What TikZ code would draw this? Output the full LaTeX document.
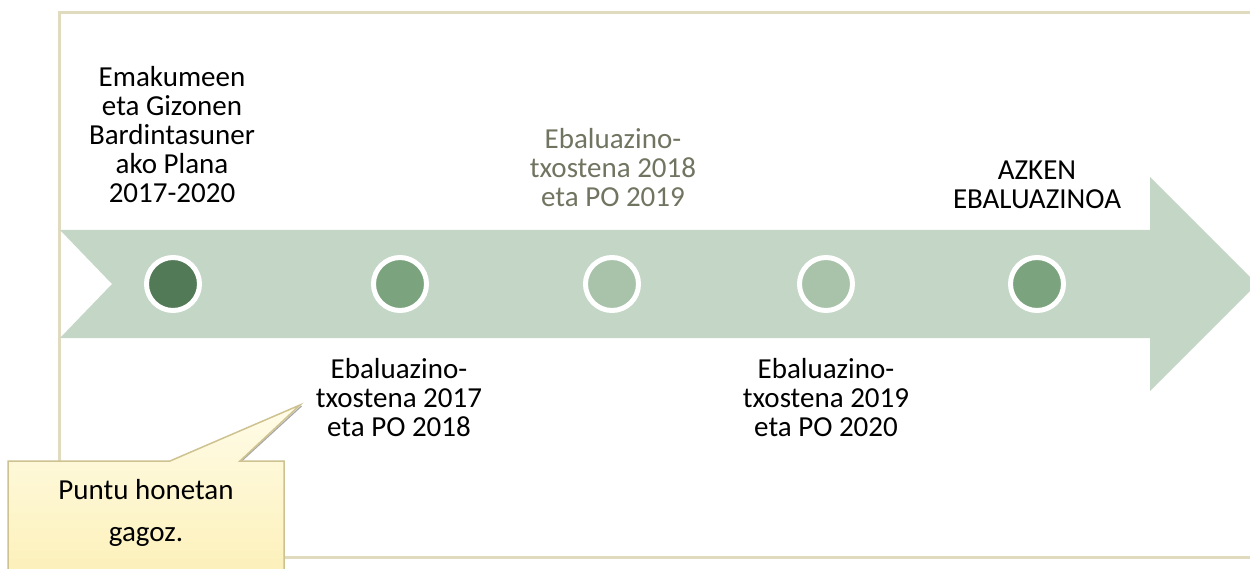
\documentclass[tikz,border=0pt]{standalone}
\usepackage{fontspec}
\setmainfont{Carlito}
\usetikzlibrary{calc}
\definecolor{framecol}{RGB}{224,219,190}
\definecolor{arrowcol}{RGB}{196,214,198}
\definecolor{darkgreen}{RGB}{82,122,86}
\definecolor{midgreen}{RGB}{123,163,126}
\definecolor{lightgreen}{RGB}{168,195,170}
\definecolor{greytext}{RGB}{112,117,97}
\definecolor{notetop}{RGB}{255,252,232}
\definecolor{notebottom}{RGB}{252,240,184}
\definecolor{noteborder}{RGB}{205,194,144}

\begin{document}
\begin{tikzpicture}[x=1pt,y=-1pt,
    stagetext/.style={align=center,inner sep=0pt,font=\fontsize{29}{29}\selectfont},
    stagedot/.style={circle,draw=white,line width=5pt,minimum size=53pt,inner sep=0pt}]
    \useasboundingbox (0,0) rectangle (1250,569);
    \draw[framecol,line width=3pt] (59,13) rectangle (1270,557);
    \fill[arrowcol] (60,230) -- (1150,230) -- (1150,177) -- (1257,284) -- (1150,391)
        -- (1150,338) -- (60,338) -- (112,284) -- cycle;
    \foreach \n/\x/\c in {1/173/darkgreen,2/400/midgreen,3/612/lightgreen,4/826/lightgreen,5/1037/midgreen} {
        \node[stagedot,fill=\c] (c\n) at (\x,284) {};
    }
    \node[stagetext] (plan) at (172,134.5) {Emakumeen\\eta Gizonen\\Bardintasuner\\ako Plana\\2017-2020};
    \node[stagetext] (eval17) at (399,398) {Ebaluazino-\\txostena 2017\\eta PO 2018};
    \node[stagetext,text=greytext] (eval18) at (613,167.5) {Ebaluazino-\\txostena 2018\\eta PO 2019};
    \node[stagetext] (eval19) at (826,398) {Ebaluazino-\\txostena 2019\\eta PO 2020};
    \node[stagetext] (final) at (1037,185) {AZKEN\\EBALUAZINOA};
    \coordinate (tip) at (300,405);
    \draw[gray!70,line width=1.2pt] ($(tip)+(1.5,1)$) -- (241.5,461);
    \draw[draw=noteborder,line width=1.5pt,top color=notetop,bottom color=notebottom]
        (8,461) -- (170,461) -- (tip) -- (240,461) -- (284,461) -- (284,580) -- (8,580) -- cycle;
    \node[stagetext,font=\fontsize{29}{42}\selectfont] (note) at (146,513) {Puntu honetan\\gagoz.};
\end{tikzpicture}
\end{document}
